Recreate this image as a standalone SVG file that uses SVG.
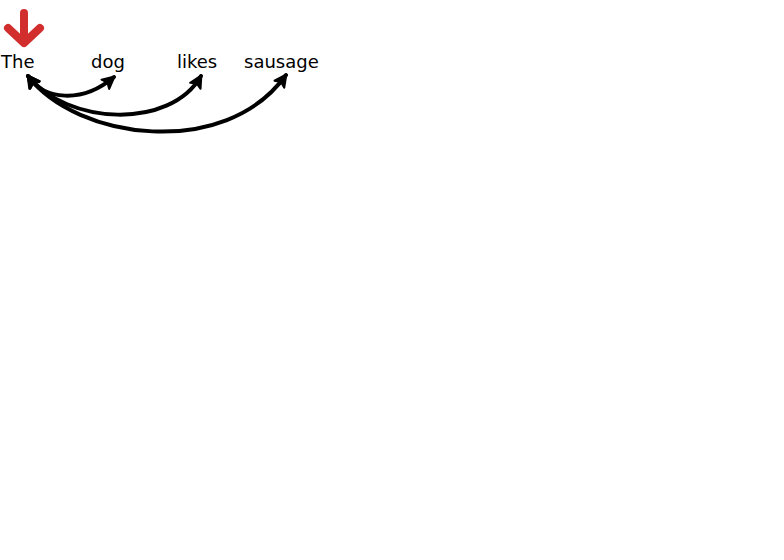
<svg xmlns="http://www.w3.org/2000/svg" width="784" height="560" viewBox="0 0 784 560">
  <style>
    .word { font-family: "DejaVu Sans", "Liberation Sans", sans-serif; font-size: 18px; fill: #000; }
    .edge { fill: none; stroke: #000; stroke-width: 4; stroke-linecap: round; marker-start: url(#head); marker-end: url(#head); }
    .pointer { fill: none; stroke: #d22e2e; stroke-width: 8; stroke-linecap: round; stroke-linejoin: round; }
  </style>
  <defs>
    <marker id="head" viewBox="0 0 12 12" refX="9.5" refY="6" markerWidth="16" markerHeight="16" markerUnits="userSpaceOnUse" orient="auto-start-reverse">
      <path d="M1,1.5 L10,6 L1,10.5 L3,6 Z" fill="#000" stroke="#000" stroke-width="1.5" stroke-linejoin="round"/>
    </marker>
  </defs>
  <rect width="784" height="560" fill="#fff"/>
  <g id="pointer">
    <path class="pointer" d="M24,13 L24,41 M8,28 L24,43 L40,28"/>
  </g>
  <g id="node-the"><text class="word" x="1" y="68">The</text></g>
  <g id="node-dog"><text class="word" x="91" y="68">dog</text></g>
  <g id="node-likes"><text class="word" x="177" y="68">likes</text></g>
  <g id="node-sausage"><text class="word" x="244" y="68">sausage</text></g>
  <g id="connectors">
    <path class="edge" d="M28,76 C44,100 82,104 114,77"/>
    <path class="edge" d="M28,76 C67,125 170,130 201,76"/>
    <path class="edge" d="M28,76 C77,140 225,160 286,75"/>
  </g>
</svg>
